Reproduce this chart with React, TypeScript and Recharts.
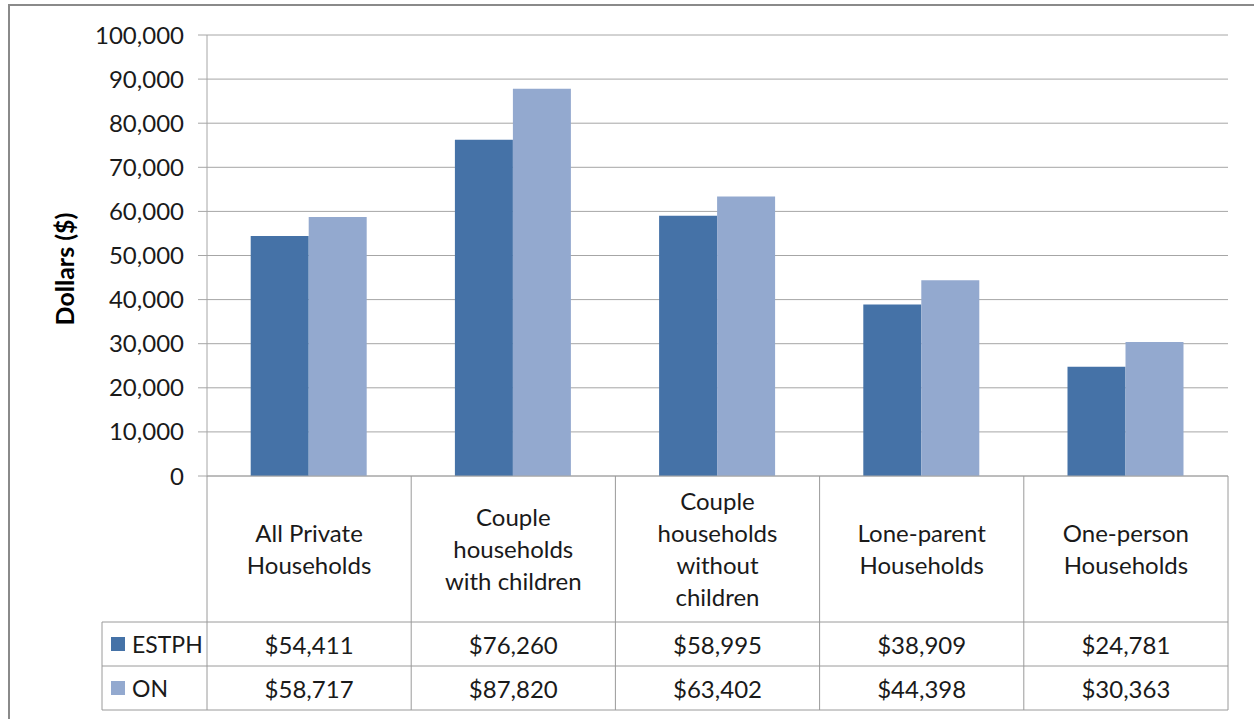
import React from 'react';
import { BarChart, Bar, XAxis, YAxis, CartesianGrid, Customized } from 'recharts';

// chart values
const categories = [
  'All Private Households',
  'Couple households with children',
  'Couple households without children',
  'Lone-parent Households',
  'One-person Households',
];
const categoryLines = [
  ['All Private', 'Households'],
  ['Couple', 'households', 'with children'],
  ['Couple', 'households', 'without', 'children'],
  ['Lone-parent', 'Households'],
  ['One-person', 'Households'],
];
const estph = [54411, 76260, 58995, 38909, 24781];
const on = [58717, 87820, 63402, 44398, 30363];
const seriesNames = ['ESTPH', 'ON'];
const yTicks = [0, 10000, 20000, 30000, 40000, 50000, 60000, 70000, 80000, 90000, 100000];

const COLORS = ['#4572A7', '#93A9CF'];
const FONT = 'Lato, "Open Sans", sans-serif';
const FS = 24;
const TEXT = '#1a1a1a';
const GRID = '#a6a6a6';
const LINE = '#9a9a9a';

// layout
const W = 1254;
const H = 719;
const PLOT_LEFT = 207;
const PLOT_RIGHT = 1228;
const PLOT_TOP = 35;
const PLOT_BOTTOM = 476;
const HEADER_BOTTOM = 622;
const ROW_H = 44;
const LEGEND_LEFT = 102;
const BAND = (PLOT_RIGHT - PLOT_LEFT) / categories.length;

const data = categories.map((name, i) => ({ name, ESTPH: estph[i], ON: on[i] }));
const fmtMoney = (v: number) => '$' + v.toLocaleString('en-US');

const TableTick = (props: any) => {
  const { x, payload } = props;
  const i = payload.index;
  const left = x - BAND / 2;
  const right = x + BAND / 2;
  const lines = categoryLines[i];
  const lh = 32;
  const midY = (PLOT_BOTTOM + HEADER_BOTTOM) / 2 - 1;
  const startY = midY - ((lines.length - 1) * lh) / 2;
  const rows = [estph, on];
  return (
    <g>
      {i === 0 && (
        <g>
          <line x1={left} y1={PLOT_BOTTOM} x2={left} y2={HEADER_BOTTOM + ROW_H * 2} stroke={LINE} />
          <line x1={LEGEND_LEFT} y1={HEADER_BOTTOM} x2={LEGEND_LEFT} y2={HEADER_BOTTOM + ROW_H * 2} stroke={LINE} />
          {[0, 1, 2].map((r) => (
            <line key={r} x1={LEGEND_LEFT} y1={HEADER_BOTTOM + r * ROW_H} x2={PLOT_RIGHT} y2={HEADER_BOTTOM + r * ROW_H} stroke={LINE} />
          ))}
          {seriesNames.map((s, r) => (
            <g key={s}>
              <rect x={111} y={HEADER_BOTTOM + r * ROW_H + ROW_H / 2 - 7} width={14} height={14} fill={COLORS[r]} />
              <text x={132} y={HEADER_BOTTOM + r * ROW_H + ROW_H / 2} dominantBaseline="central" fontFamily={FONT} fontSize={FS - 1} fill={TEXT}>
                {s}
              </text>
            </g>
          ))}
        </g>
      )}
      <line x1={right} y1={PLOT_BOTTOM} x2={right} y2={HEADER_BOTTOM + ROW_H * 2} stroke={LINE} />
      {lines.map((t, k) => (
        <text key={k} x={x} y={startY + k * lh} textAnchor="middle" dominantBaseline="central" fontFamily={FONT} fontSize={FS} fill={TEXT}>
          {t}
        </text>
      ))}
      {rows.map((vals, r) => (
        <text key={r} x={x} y={HEADER_BOTTOM + r * ROW_H + ROW_H / 2} textAnchor="middle" dominantBaseline="central" fontFamily={FONT} fontSize={FS} fill={TEXT}>
          {fmtMoney(vals[i])}
        </text>
      ))}
    </g>
  );
};

const Frame = () => (
  <g>
    <path d={`M 9 ${H} V 5 H ${W}`} fill="none" stroke="#8a8a8a" strokeWidth={2} />
    <text
      x={64}
      y={269}
      transform="rotate(-90 64 269)"
      textAnchor="middle"
      dominantBaseline="central"
      fontFamily={FONT}
      fontWeight="bold"
      fontSize={25}
      fill="#000"
    >
      Dollars ($)
    </text>
  </g>
);

export default function App() {
  return (
    <div style={{ position: 'absolute', left: 0, top: 0, width: W, height: H, background: '#fff' }}>
      <BarChart
        width={W}
        height={H}
        data={data}
        margin={{ top: PLOT_TOP, left: PLOT_LEFT - 120, right: W - PLOT_RIGHT, bottom: 0 }}
        barCategoryGap="21.4%"
        barGap={0}
      >
        <CartesianGrid vertical={false} stroke={GRID} />
        <XAxis
          dataKey="name"
          height={H - PLOT_BOTTOM}
          interval={0}
          tickLine={false}
          axisLine={{ stroke: GRID }}
          tick={<TableTick />}
        />
        <YAxis
          width={120}
          domain={[0, 100000]}
          ticks={yTicks}
          interval={0}
          tickSize={9}
          tickMargin={14}
          tickLine={{ stroke: GRID }}
          axisLine={{ stroke: GRID }}
          tickFormatter={(v: number) => v.toLocaleString('en-US')}
          tick={{ fill: TEXT, fontFamily: FONT, fontSize: FS }}
        />
        <Bar dataKey="ESTPH" fill={COLORS[0]} isAnimationActive={false} />
        <Bar dataKey="ON" fill={COLORS[1]} isAnimationActive={false} />
        <Customized component={Frame} />
      </BarChart>
    </div>
  );
}
